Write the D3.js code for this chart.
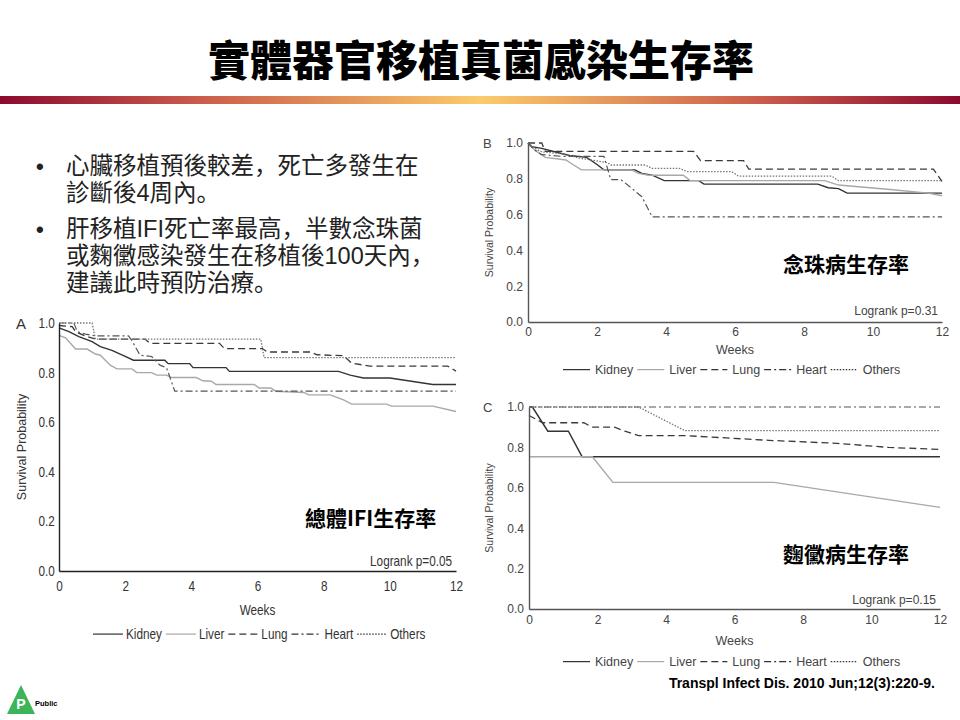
<!DOCTYPE html>
<html>
<head>
<meta charset="utf-8">
<script src="https://cdn.jsdelivr.net/npm/d3@7/dist/d3.min.js"></script>
<style>
  html, body { margin: 0; padding: 0; background: #fff; }
  svg { display: block; }
</style>
</head>
<body>
<svg id="chart" width="960" height="720"></svg>
<script>
// ---------------- DATA ----------------
const titleText = "實體器官移植真菌感染生存率";
const bulletParagraphs = [
  ["心臟移植預後較差，死亡多發生在", "診斷後4周內。"],
  ["肝移植IFI死亡率最高，半數念珠菌", "或麴黴感染發生在移植後100天內，", "建議此時預防治療。"]
];
const weekTicks = [0, 2, 4, 6, 8, 10, 12];
const probTicks = [0, 0.2, 0.4, 0.6, 0.8, 1.0];
const seriesNames = ["Kidney", "Liver", "Lung", "Heart", "Others"];

// Panel A: overall IFI survival (week, probability)
const aKidney = [[0,0.98],[0.3,0.965],[0.6,0.945],[1.0,0.925],[1.25,0.905],[1.6,0.89],[2.0,0.865],[2.25,0.85],[3.2,0.85],[3.3,0.836],[3.95,0.836],[4.05,0.82],[5.05,0.82],[5.15,0.805],[8.45,0.805],[8.8,0.79],[9.2,0.778],[10.0,0.778],[11.3,0.752],[12,0.752]];
const aLiver  = [[0,0.95],[0.2,0.94],[0.4,0.91],[0.5,0.895],[0.85,0.895],[1.1,0.875],[1.25,0.87],[1.4,0.85],[1.55,0.83],[1.75,0.815],[2.2,0.815],[2.35,0.8],[2.8,0.8],[2.95,0.79],[3.25,0.79],[3.4,0.78],[4.15,0.78],[4.35,0.767],[4.6,0.765],[4.75,0.752],[5.9,0.752],[6.05,0.738],[6.4,0.738],[6.55,0.725],[7.4,0.72],[7.55,0.71],[8.2,0.71],[8.6,0.69],[8.85,0.673],[9.9,0.673],[10.05,0.665],[11.3,0.665],[12,0.643]];
const aLung   = [[0,0.99],[0.4,0.985],[0.5,0.965],[0.75,0.95],[1.1,0.935],[2.6,0.935],[2.75,0.918],[4.85,0.918],[5.0,0.897],[6.15,0.897],[6.3,0.883],[7.6,0.883],[7.8,0.872],[8.6,0.868],[8.85,0.838],[9.4,0.826],[11.75,0.826],[12,0.806]];
const aHeart  = [[0,1.0],[0.45,1.0],[0.55,0.965],[0.8,0.955],[1.1,0.948],[2.1,0.948],[2.2,0.93],[2.45,0.87],[2.8,0.865],[3.05,0.83],[3.25,0.82],[3.5,0.725],[12,0.725]];
const aOthers = [[0,1.0],[1.0,1.0],[1.1,0.935],[6.1,0.935],[6.2,0.86],[12,0.86]];

// Panel B: candidiasis survival
const bKidney = [[0,1.0],[0.1,0.98],[0.4,0.97],[0.8,0.95],[1.2,0.93],[1.7,0.92],[2.0,0.88],[2.2,0.85],[3.1,0.85],[3.3,0.83],[3.6,0.82],[3.95,0.79],[4.95,0.79],[5.1,0.77],[8.4,0.77],[8.7,0.75],[9.0,0.745],[9.25,0.72],[12,0.72]];
const bLiver  = [[0,1.0],[0.2,0.96],[0.5,0.92],[1.1,0.905],[1.3,0.88],[1.55,0.85],[3.0,0.85],[3.2,0.83],[3.5,0.82],[4.5,0.82],[4.7,0.79],[8.6,0.79],[9.0,0.765],[10.5,0.74],[11.6,0.72],[12,0.705]];
const bLung   = [[0,1.0],[0.4,1.0],[0.5,0.953],[4.8,0.953],[5.0,0.902],[6.25,0.902],[6.4,0.854],[11.75,0.854],[12,0.785]];
const bHeart  = [[0,1.0],[0.2,0.96],[0.4,0.935],[1.0,0.925],[2.2,0.925],[2.4,0.795],[2.7,0.795],[3.3,0.7],[3.6,0.587],[12,0.587]];
const bOthers = [[0,1.0],[0.2,0.97],[0.4,0.95],[1.0,0.94],[1.5,0.915],[2.0,0.9],[2.3,0.89],[2.4,0.877],[3.4,0.877],[3.6,0.858],[4.4,0.858],[4.6,0.84],[5.9,0.84],[6.1,0.815],[8.8,0.815],[9.0,0.79],[12,0.79]];

// Panel C: aspergillosis survival
const cKidney = [[0,1.0],[0.1,1.0],[0.55,0.88],[1.15,0.88],[1.55,0.754],[12,0.754]];
const cLiver  = [[0,0.754],[1.85,0.754],[2.45,0.627],[7.15,0.627],[12,0.503]];
const cLung   = [[0,0.958],[0.4,0.922],[1.6,0.922],[1.85,0.9],[2.5,0.9],[2.8,0.88],[3.2,0.858],[4.6,0.858],[7,0.835],[9,0.82],[10.5,0.8],[12,0.79]];
const cHeart  = [[0,1.0],[12,1.0]];
const cOthers = [[0,1.0],[3.2,1.0],[4.55,0.883],[12,0.883]];

const panelLetters = ["A", "B", "C"];
const panelCaptions = ["總體IFI生存率", "念珠病生存率", "麴黴病生存率"];
const logrankTexts = ["Logrank p=0.05", "Logrank p=0.31", "Logrank p=0.15"];
const xLabel = "Weeks";
const yLabel = "Survival Probability";
const citation = "Transpl Infect Dis. 2010 Jun;12(3):220-9.";

// ---------------- STYLES ----------------
const seriesStyle = {
  Kidney: { color: "#333333", dash: null, width: 1.4 },
  Liver:  { color: "#a8a8a8", dash: null, width: 1.4 },
  Lung:   { color: "#3a3a3a", dash: "7,4", width: 1.3 },
  Heart:  { color: "#555555", dash: "7,3,2,3", width: 1.2 },
  Others: { color: "#777777", dash: "1.5,1.5", width: 1.3 }
};

const svg = d3.select("#chart");
const CJK = "'Noto Sans CJK TC','Noto Sans CJK SC',sans-serif";

// ---------- Title ----------
svg.append("text")
  .attr("x", 481).attr("y", 76)
  .attr("text-anchor", "middle")
  .attr("font-family", CJK)
  .attr("font-weight", 900)
  .attr("font-size", 42)
  .attr("fill", "#000")
  .text(titleText);

// ---------- Gradient bar ----------
const defs = svg.append("defs");
const grad = defs.append("linearGradient").attr("id", "bar").attr("x1", "0%").attr("x2", "100%");
[["0%", "#8c0a2e"], ["20%", "#c9594a"], ["50%", "#fbcb6c"], ["80%", "#c9594a"], ["100%", "#8c0a2e"]]
  .forEach(([o, c]) => grad.append("stop").attr("offset", o).attr("stop-color", c));
svg.append("rect").attr("x", 0).attr("y", 96).attr("width", 960).attr("height", 8).attr("fill", "url(#bar)");

// ---------- Bullets (each bullet is one wrapped paragraph) ----------
const paragraphTops = [174, 237];
const lineGap = 27;
bulletParagraphs.forEach((lines, i) => {
  svg.append("text").attr("x", 36).attr("y", paragraphTops[i])
    .attr("font-family", "'Liberation Sans',sans-serif").attr("font-size", 22).attr("font-weight", 700)
    .attr("fill", "#222").text("•");
  const t = svg.append("text").attr("x", 66).attr("y", paragraphTops[i])
    .attr("font-family", "'Liberation Sans','Noto Sans CJK SC','Noto Sans CJK TC',sans-serif")
    .attr("font-size", 23.5).attr("fill", "#222");
  lines.forEach((s, j) => {
    t.append("tspan").attr("x", 66).attr("dy", j === 0 ? 0 : lineGap).text(s);
  });
});

// ---------- Panels ----------
const panels = [
  { letter: panelLetters[0], caption: panelCaptions[0], logrank: logrankTexts[0],
    data: [aKidney, aLiver, aLung, aHeart, aOthers],
    x0: 59, x1: 456, yTop: 323, yBot: 571,
    font: "'Liberation Sans',Arial,sans-serif", fs: 14, lfs: 14, sx: 0.84,
    axisColor: "#222", textColor: "#333",
    letterXY: [16, 329], yLabX: 26, xTickDy: 19, weeksY: 615, legendY: 639, legendX: 93,
    legendLine: 30, gapA: 3, gapB: 4, capX: 305, capY: 526, lrX: 452, lrY: 566 },
  { letter: panelLetters[1], caption: panelCaptions[1], logrank: logrankTexts[1],
    data: [bKidney, bLiver, bLung, bHeart, bOthers],
    x0: 528, x1: 942, yTop: 143, yBot: 322,
    font: "'Liberation Sans',Arial,sans-serif", fs: 12, lfs: 12.5, sx: 1,
    axisColor: "#555", textColor: "#444",
    letterXY: [483, 148], yLabX: 493, xTickDy: 14, weeksY: 354, legendY: 374, legendX: 563,
    legendLine: 27, gapA: 5, gapB: 4, capX: 783, capY: 272, lrX: 938, lrY: 315 },
  { letter: panelLetters[2], caption: panelCaptions[2], logrank: logrankTexts[2],
    data: [cKidney, cLiver, cLung, cHeart, cOthers],
    x0: 529, x1: 940, yTop: 407, yBot: 609,
    font: "'Liberation Sans',Arial,sans-serif", fs: 12, lfs: 12.5, sx: 1,
    axisColor: "#555", textColor: "#444",
    letterXY: [483, 412], yLabX: 493, xTickDy: 15, weeksY: 645, legendY: 666, legendX: 563,
    legendLine: 27, gapA: 5, gapB: 4, capX: 783, capY: 562, lrX: 936, lrY: 604 }
];

function placeText(g, p, xPos, yPos, str, anchor, size) {
  return g.append("text")
    .attr("transform", `translate(${xPos},${yPos}) scale(${p.sx},1)`)
    .attr("text-anchor", anchor || "start")
    .attr("font-family", p.font).attr("font-size", size || p.fs).attr("fill", p.textColor)
    .text(str);
}

panels.forEach(p => {
  const g = svg.append("g");
  const x = d3.scaleLinear().domain([0, 12]).range([p.x0, p.x1]);
  const y = d3.scaleLinear().domain([0, 1]).range([p.yBot, p.yTop]);

  // curves
  const line = d3.line().x(d => x(d[0])).y(d => y(d[1])).curve(d3.curveLinear);
  p.data.forEach((series, i) => {
    const st = seriesStyle[seriesNames[i]];
    g.append("path").datum(series)
      .attr("d", line)
      .attr("fill", "none")
      .attr("stroke", st.color)
      .attr("stroke-width", st.width)
      .attr("stroke-dasharray", st.dash);
  });

  // axes
  const ax = g.append("g").attr("transform", `translate(${p.x0},0)`)
    .call(d3.axisLeft(y).tickValues(probTicks).tickSize(0).tickSizeOuter(0).tickPadding(5).tickFormat(d3.format(".1f")));
  const bx = g.append("g").attr("transform", `translate(0,${p.yBot})`)
    .call(d3.axisBottom(x).tickValues(weekTicks).tickSize(0).tickSizeOuter(0).tickPadding(p.xTickDy - 9).tickFormat(d3.format("d")));
  [ax, bx].forEach(a => {
    a.select(".domain").attr("stroke", p.axisColor).attr("stroke-width", 1.4);
    a.selectAll("text").attr("font-family", p.font).attr("font-size", p.fs).attr("fill", p.textColor)
      .attr("transform", `scale(${p.sx},1)`);
  });

  // panel letter
  g.append("text").attr("x", p.letterXY[0]).attr("y", p.letterXY[1])
    .attr("font-family", p.font).attr("font-size", p.fs + 1).attr("fill", p.textColor).text(p.letter);

  // y label
  g.append("text")
    .attr("transform", `translate(${p.yLabX},${(p.yTop + p.yBot) / 2}) rotate(-90)`)
    .attr("text-anchor", "middle")
    .attr("font-family", p.font).attr("font-size", p.fs - 1.5).attr("fill", p.textColor)
    .text(yLabel);

  // x label
  placeText(g, p, (p.x0 + p.x1) / 2, p.weeksY, xLabel, "middle", p.lfs);

  // logrank
  placeText(g, p, p.lrX, p.lrY, p.logrank, "end");

  // caption
  g.append("text").attr("x", p.capX).attr("y", p.capY)
    .attr("font-family", CJK).attr("font-weight", 700).attr("font-size", 21).attr("fill", "#000")
    .text(p.caption);

  // legend
  let cx = p.legendX;
  seriesNames.forEach(name => {
    const st = seriesStyle[name];
    g.append("line").attr("x1", cx).attr("x2", cx + p.legendLine)
      .attr("y1", p.legendY - p.lfs * 0.35).attr("y2", p.legendY - p.lfs * 0.35)
      .attr("stroke", name === "Liver" ? "#a8a8a8" : "#333").attr("stroke-width", 1.2)
      .attr("stroke-dasharray", st.dash);
    cx += p.legendLine + p.gapA;
    const t = placeText(g, p, cx, p.legendY, name, "start", p.lfs);
    cx += t.node().getComputedTextLength() * p.sx + p.gapB;
  });
});

// ---------- Citation ----------
svg.append("text").attr("x", 935).attr("y", 688).attr("text-anchor", "end")
  .attr("font-family", "'Liberation Sans',Arial,sans-serif").attr("font-weight", 700)
  .attr("font-size", 14).attr("fill", "#000").text(citation);

// ---------- Logo ----------
svg.append("path").attr("d", d3.line()([[7, 714], [35, 714], [21, 685]]) + "Z").attr("fill", "#3cb55a");
svg.append("text").attr("x", 21).attr("y", 709).attr("text-anchor", "middle")
  .attr("font-family", "'Liberation Sans',Arial,sans-serif").attr("font-weight", 700)
  .attr("font-size", 14).attr("fill", "#fff").text("P");
svg.append("text").attr("x", 35).attr("y", 706)
  .attr("font-family", "'Liberation Sans',Arial,sans-serif").attr("font-weight", 700)
  .attr("font-size", 7.5).attr("fill", "#000").text("Public");
</script>
</body>
</html>
